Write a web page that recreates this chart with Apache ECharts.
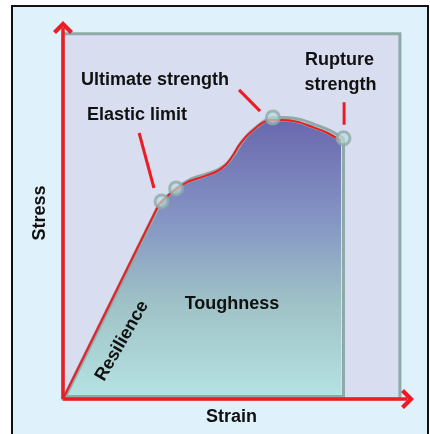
<!DOCTYPE html>
<html>
<head>
<meta charset="utf-8">
<script src="https://cdn.jsdelivr.net/npm/echarts@6/dist/echarts.min.js"></script>
<style>
  html, body { margin: 0; padding: 0; background: #ffffff; }
  #chart { width: 430px; height: 434px; }
</style>
</head>
<body>
<div id="chart"></div>
<script>
// Stress–strain curve of a ductile material (arbitrary units, both axes 0–100)
const strain = [0, 27.9, 32.1, 36.1, 40.5, 44.3, 47.2, 49.2, 51.2, 53.3, 55.6, 57.9, 60.2, 63.7, 68.1, 72.4, 76.8, 80.7];
const stress = [0, 52.5, 56.0, 58.4, 59.8, 61.1, 63.0, 65.4, 68.4, 70.8, 72.7, 74.3, 75.1, 75.1, 74.6, 73.2, 71.6, 69.5];

// Points marked with a ring: elastic limit, yield, ultimate strength, rupture
const keyIndex = [1, 2, 12, 17];

// Leader lines from the captions to the curve: [strainA, stressA, strainB, stressB]
const leaders = [
  [22.1, 71.6, 26.4, 56.8],   // Elastic limit
  [51.1, 83.2, 57.2, 77.5],   // Ultimate strength
  [81.6, 79.9, 81.6, 73.8]    // Rupture strength
];

// Upper-right corner of the shaded plotting panel
const panelCorner = [97.8, 98.3];

const RED = '#ec1c24';
const GRAY = '#8eaaa8';
const PANEL = '#d9ddf0';
const INK = '#111111';
const FONT = '"Liberation Sans", Arial, Helvetica, sans-serif';

const curve = strain.map((x, i) => [x, stress[i]]);
const elasticIdx = keyIndex[0];
const linearPart = curve.slice(0, elasticIdx + 1);
const plasticPart = curve.slice(elasticIdx);
const rupture = curve[curve.length - 1];
const keyPoints = keyIndex.map(i => curve[i]);

// Gray outline sits just up and to the right of the red curve
const SHIFT_X = 2.5, SHIFT_Y = -2.5;

const chevron = 'path://M10,0L20,10L17,13L10,6L3,13L0,10Z';
const axisLine = {
  show: true,
  symbol: ['none', chevron],
  symbolSize: [20, 13],
  lineStyle: { color: RED, width: 3.5, cap: 'butt' }
};

// gray band: the stroke plus its offset copy, drawn under the red curve
const grayBand = {
  color: GRAY, width: 3,
  shadowColor: GRAY, shadowBlur: 0,
  shadowOffsetX: SHIFT_X, shadowOffsetY: SHIFT_Y
};
const redCurve = { color: RED, width: 2 };

function label(text, x, y, extra) {
  return Object.assign({
    type: 'text', x: x, y: y, z: 50,
    style: {
      text: text, fill: INK, font: 'bold 18px ' + FONT,
      align: 'center', verticalAlign: 'middle'
    }
  }, extra || {});
}

function curveSeries(data, smooth, style, z) {
  return {
    type: 'line', z: z, silent: true, smooth: smooth,
    data: data, showSymbol: false, symbol: 'none',
    lineStyle: style
  };
}

const chart = echarts.init(document.getElementById('chart'), null, { renderer: 'canvas' });

chart.setOption({
  animation: false,
  backgroundColor: '#ffffff',
  grid: { left: 63, right: 22.5, top: 27.5, bottom: 35, containLabel: false },
  xAxis: {
    type: 'value', min: 0, max: 100, z: 10,
    axisLine: axisLine, axisTick: { show: false },
    axisLabel: { show: false }, splitLine: { show: false }
  },
  yAxis: {
    type: 'value', min: 0, max: 100, z: 10,
    axisLine: axisLine, axisTick: { show: false },
    axisLabel: { show: false }, splitLine: { show: false }
  },
  graphic: [
    {
      type: 'rect', z: -10, silent: true,
      shape: { x: 12, y: 6, width: 416, height: 440 },
      style: { fill: '#dff1fb', stroke: INK, lineWidth: 2 }
    },
    label('Ultimate strength', 155, 80.5),
    label('Rupture', 339.5, 60),
    label('strength', 340.5, 85),
    label('Elastic limit', 137, 115),
    label('Toughness', 232, 304),
    label('Strain', 231.5, 417),
    label('Stress', 40, 213, { rotation: Math.PI / 2 }),
    label('Resilience', 122, 341, { rotation: Math.PI / 3 })
  ],
  series: [
    {
      // shaded panel behind the curve
      type: 'custom', z: 1, silent: true, clip: false,
      data: [panelCorner],
      renderItem: function (params, api) {
        const tl = api.coord([0, api.value(1)]);
        const br = api.coord([api.value(0), 0]);
        return {
          type: 'rect',
          shape: { x: tl[0], y: tl[1], width: br[0] - tl[0], height: br[1] - tl[1] },
          style: { fill: PANEL, stroke: GRAY, lineWidth: 3 }
        };
      }
    },
    {
      // area under the curve (toughness)
      type: 'line', z: 2, silent: true, smooth: false,
      data: curve, showSymbol: false, symbol: 'none',
      lineStyle: { width: 0, opacity: 0 },
      areaStyle: {
        opacity: 1,
        color: new echarts.graphic.LinearGradient(0, 0, 0, 1, [
          { offset: 0, color: '#6a68ae' },
          { offset: 0.35, color: '#8494c4' },
          { offset: 0.65, color: '#9ec1c6' },
          { offset: 1, color: '#b6e3e3' }
        ])
      }
    },
    {
      // gray outline: drop at rupture and base of the area
      type: 'custom', z: 3, silent: true, clip: false,
      data: [rupture],
      renderItem: function (params, api) {
        const pts = [
          api.coord([api.value(0), api.value(1)]),
          api.coord([api.value(0), 0]),
          api.coord([0, 0])
        ].map(p => [p[0] + SHIFT_X, p[1] + SHIFT_Y]);
        return {
          type: 'polyline',
          shape: { points: pts },
          style: { stroke: GRAY, lineWidth: 3, fill: null }
        };
      }
    },
    curveSeries(linearPart, false, grayBand, 3),
    curveSeries(plasticPart, 0.3, grayBand, 3),
    curveSeries(linearPart, false, redCurve, 4),
    curveSeries(plasticPart, 0.3, redCurve, 4),
    {
      type: 'scatter', z: 5, silent: true,
      data: keyPoints, symbol: 'circle', symbolSize: 13,
      symbolOffset: [SHIFT_X, SHIFT_Y],
      itemStyle: { color: 'rgba(184,222,222,0.82)', borderColor: GRAY, borderWidth: 3 }
    },
    ...leaders.map(l => ({
      type: 'line', z: 6, silent: true,
      data: [[l[0], l[1]], [l[2], l[3]]],
      showSymbol: false, symbol: 'none',
      lineStyle: { color: RED, width: 3 }
    }))
  ]
});
</script>
</body>
</html>
